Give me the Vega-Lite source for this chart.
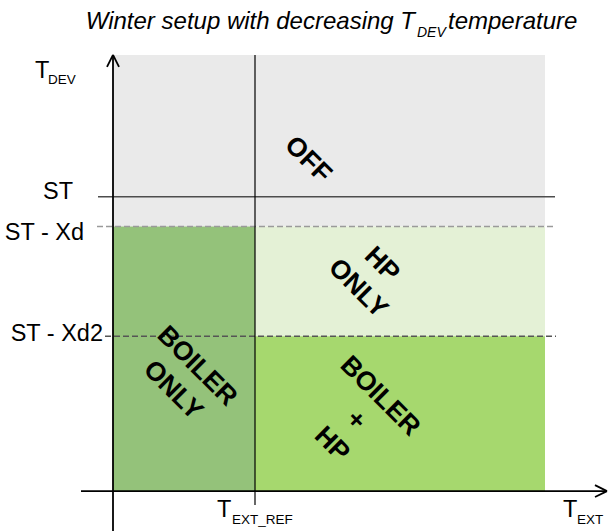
{
  "$schema": "https://vega.github.io/schema/vega-lite/v6.json",
  "width": 610,
  "height": 532,
  "autosize": {"type": "fit", "contains": "padding"},
  "padding": 0,
  "config": {"view": {"stroke": null}, "font": "Liberation Sans"},
  "datasets": {
    "zones": [
      {"zone": "OFF", "x0": 0, "x1": 432, "y0": 265, "y1": 437},
      {"zone": "HP ONLY", "x0": 142, "x1": 432, "y0": 155, "y1": 265},
      {"zone": "BOILER ONLY", "x0": 0, "x1": 142, "y0": 0, "y1": 265},
      {"zone": "BOILER + HP", "x0": 142, "x1": 432, "y0": 0, "y1": 155}
    ],
    "lines": [
      {"line": "xaxis", "x0": -32, "y0": 0, "x1": 494, "y1": 0},
      {"line": "yaxis", "x0": 0, "y0": -40, "x1": 0, "y1": 437},
      {"line": "arrow", "x0": 0, "y0": 437, "x1": -6, "y1": 425},
      {"line": "arrow", "x0": 0, "y0": 437, "x1": 6, "y1": 425},
      {"line": "arrow", "x0": 494, "y0": 0, "x1": 482, "y1": 6},
      {"line": "arrow", "x0": 494, "y0": 0, "x1": 482, "y1": -6},
      {"line": "ref", "x0": 142, "y0": -14, "x1": 142, "y1": 437},
      {"line": "ST", "x0": -15, "y0": 295, "x1": 442, "y1": 295},
      {"line": "Xd", "x0": -16, "y0": 265, "x1": 440, "y1": 265},
      {"line": "Xd2", "x0": -8, "y0": 155, "x1": 443, "y1": 155}
    ],
    "labels": [
      {"role": "region", "label": "OFF", "x": 195, "y": 332},
      {"role": "region", "label": "HP\nONLY", "x": 269, "y": 227},
      {"role": "region", "label": "BOILER\nONLY", "x": 84, "y": 125},
      {"role": "region", "label": "BOILER\n+\nHP", "x": 267, "y": 95},
      {"role": "level", "label": "ST", "x": -40, "y": 293},
      {"role": "level", "label": "ST - Xd", "x": -29, "y": 252},
      {"role": "level", "label": "ST - Xd2", "x": -10, "y": 150},
      {"role": "main", "label": "T", "x": -78, "y": 414},
      {"role": "main", "label": "T", "x": 104, "y": -26},
      {"role": "main", "label": "T", "x": 450, "y": -26},
      {"role": "sub", "label": "DEV", "x": -65, "y": 408},
      {"role": "sub", "label": "EXT_REF", "x": 119, "y": -33},
      {"role": "sub", "label": "EXT", "x": 464, "y": -33},
      {"role": "title1", "label": "Winter setup with decreasing T", "x": 302, "y": 463},
      {"role": "titlesub", "label": "DEV", "x": 304, "y": 455},
      {"role": "title2", "label": "temperature", "x": 335, "y": 463}
    ]
  },
  "layer": [
    {
      "data": {"name": "zones"},
      "mark": {"type": "rect"},
      "encoding": {
        "x": {"field": "x0", "type": "quantitative", "scale": {"domain": [-113, 497], "nice": false, "zero": false}, "axis": null},
        "x2": {"field": "x1"},
        "y": {"field": "y0", "type": "quantitative", "scale": {"domain": [-40, 492], "nice": false, "zero": false}, "axis": null},
        "y2": {"field": "y1"},
        "color": {"field": "zone", "type": "nominal", "legend": null,
          "scale": {"domain": ["OFF", "HP ONLY", "BOILER ONLY", "BOILER + HP"], "range": ["#EAEAEA", "#E4F1D6", "#94C27A", "#A6D86E"]}}
      }
    },
    {
      "data": {"name": "lines"},
      "transform": [{"filter": "datum.line === 'Xd'"}],
      "mark": {"type": "rule", "stroke": "#9a9a9a", "strokeWidth": 1.5, "strokeDash": [6, 3]},
      "encoding": {
        "x": {"field": "x0", "type": "quantitative", "axis": null}, "x2": {"field": "x1"},
        "y": {"field": "y0", "type": "quantitative", "axis": null}, "y2": {"field": "y1"}
      }
    },
    {
      "data": {"name": "lines"},
      "transform": [{"filter": "datum.line === 'Xd2'"}],
      "mark": {"type": "rule", "stroke": "#555555", "strokeWidth": 1.5, "strokeDash": [6, 3]},
      "encoding": {
        "x": {"field": "x0", "type": "quantitative", "axis": null}, "x2": {"field": "x1"},
        "y": {"field": "y0", "type": "quantitative", "axis": null}, "y2": {"field": "y1"}
      }
    },
    {
      "data": {"name": "lines"},
      "transform": [{"filter": "datum.line === 'ST'"}],
      "mark": {"type": "rule", "stroke": "#4d4d4d", "strokeWidth": 1.5},
      "encoding": {
        "x": {"field": "x0", "type": "quantitative", "axis": null}, "x2": {"field": "x1"},
        "y": {"field": "y0", "type": "quantitative", "axis": null}, "y2": {"field": "y1"}
      }
    },
    {
      "data": {"name": "lines"},
      "transform": [{"filter": "datum.line === 'ref'"}],
      "mark": {"type": "rule", "stroke": "#000000", "strokeWidth": 1.2},
      "encoding": {
        "x": {"field": "x0", "type": "quantitative", "axis": null}, "x2": {"field": "x1"},
        "y": {"field": "y0", "type": "quantitative", "axis": null}, "y2": {"field": "y1"}
      }
    },
    {
      "data": {"name": "lines"},
      "transform": [{"filter": "datum.line === 'xaxis' || datum.line === 'yaxis' || datum.line === 'arrow'"}],
      "mark": {"type": "rule", "stroke": "#000000", "strokeWidth": 1.8},
      "encoding": {
        "x": {"field": "x0", "type": "quantitative", "axis": null}, "x2": {"field": "x1"},
        "y": {"field": "y0", "type": "quantitative", "axis": null}, "y2": {"field": "y1"}
      }
    },
    {
      "data": {"name": "labels"},
      "transform": [{"filter": "datum.role === 'region'"}],
      "mark": {"type": "text", "fontSize": 26.5, "fontWeight": "bold", "angle": 45, "align": "center", "baseline": "middle", "lineBreak": "\n", "lineHeight": 34, "color": "#000000"},
      "encoding": {
        "x": {"field": "x", "type": "quantitative", "axis": null},
        "y": {"field": "y", "type": "quantitative", "axis": null},
        "text": {"field": "label"}
      }
    },
    {
      "data": {"name": "labels"},
      "transform": [{"filter": "datum.role === 'level'"}],
      "mark": {"type": "text", "fontSize": 23.5, "align": "right", "baseline": "alphabetic", "color": "#000000"},
      "encoding": {
        "x": {"field": "x", "type": "quantitative", "axis": null},
        "y": {"field": "y", "type": "quantitative", "axis": null},
        "text": {"field": "label"}
      }
    },
    {
      "data": {"name": "labels"},
      "transform": [{"filter": "datum.role === 'main'"}],
      "mark": {"type": "text", "fontSize": 23.5, "align": "left", "baseline": "alphabetic", "color": "#000000"},
      "encoding": {
        "x": {"field": "x", "type": "quantitative", "axis": null},
        "y": {"field": "y", "type": "quantitative", "axis": null},
        "text": {"field": "label"}
      }
    },
    {
      "data": {"name": "labels"},
      "transform": [{"filter": "datum.role === 'sub'"}],
      "mark": {"type": "text", "fontSize": 13.5, "align": "left", "baseline": "alphabetic", "color": "#000000"},
      "encoding": {
        "x": {"field": "x", "type": "quantitative", "axis": null},
        "y": {"field": "y", "type": "quantitative", "axis": null},
        "text": {"field": "label"}
      }
    },
    {
      "data": {"name": "labels"},
      "transform": [{"filter": "datum.role === 'title1'"}],
      "mark": {"type": "text", "fontSize": 24, "fontStyle": "italic", "align": "right", "baseline": "alphabetic", "color": "#000000"},
      "encoding": {
        "x": {"field": "x", "type": "quantitative", "axis": null},
        "y": {"field": "y", "type": "quantitative", "axis": null},
        "text": {"field": "label"}
      }
    },
    {
      "data": {"name": "labels"},
      "transform": [{"filter": "datum.role === 'titlesub'"}],
      "mark": {"type": "text", "fontSize": 14, "fontStyle": "italic", "align": "left", "baseline": "alphabetic", "color": "#000000"},
      "encoding": {
        "x": {"field": "x", "type": "quantitative", "axis": null},
        "y": {"field": "y", "type": "quantitative", "axis": null},
        "text": {"field": "label"}
      }
    },
    {
      "data": {"name": "labels"},
      "transform": [{"filter": "datum.role === 'title2'"}],
      "mark": {"type": "text", "fontSize": 24, "fontStyle": "italic", "align": "left", "baseline": "alphabetic", "color": "#000000"},
      "encoding": {
        "x": {"field": "x", "type": "quantitative", "axis": null},
        "y": {"field": "y", "type": "quantitative", "axis": null},
        "text": {"field": "label"}
      }
    }
  ]
}
